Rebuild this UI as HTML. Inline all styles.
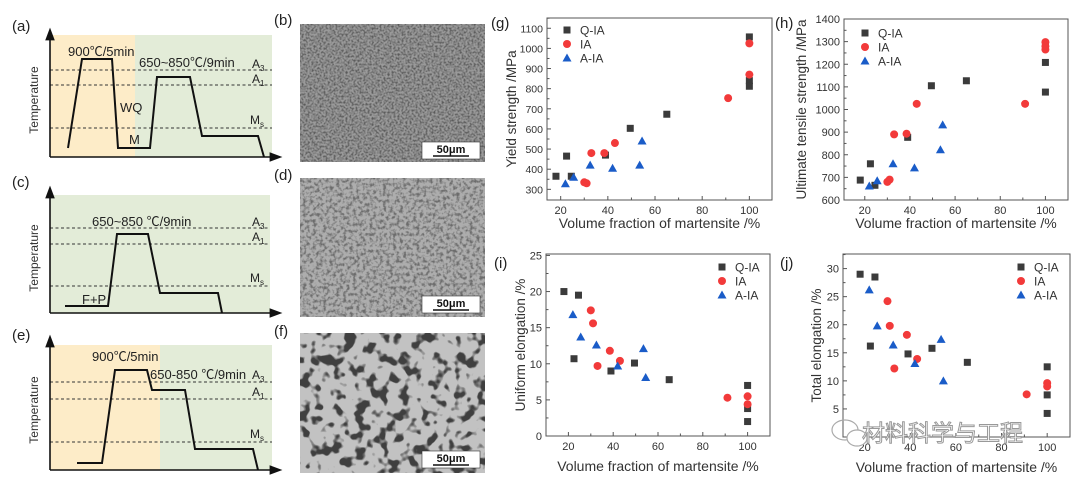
<!DOCTYPE html>
<html><head><meta charset="utf-8">
<style>
html,body{margin:0;padding:0;background:#fff;}
svg{display:block;font-family:"Liberation Sans","Noto Sans CJK SC",sans-serif;}
</style></head>
<body>
<svg id="fig" width="1080" height="484" viewBox="0 0 1080 484" xmlns="http://www.w3.org/2000/svg">
<defs>
  <filter id="nb" x="0" y="0" width="1" height="1">
    <feTurbulence type="fractalNoise" baseFrequency="0.5" numOctaves="2" seed="3"/>
    <feColorMatrix type="matrix" values="0 0 0 0 0.1  0 0 0 0 0.1  0 0 0 0 0.1  0 0 0 -2.6 1.6"/>
  </filter>
  <filter id="nd" x="0" y="0" width="1" height="1">
    <feTurbulence type="fractalNoise" baseFrequency="0.3" numOctaves="2" seed="7"/>
    <feColorMatrix type="matrix" values="0 0 0 0 0.15  0 0 0 0 0.15  0 0 0 0 0.15  0 0 0 -3.2 1.8"/>
  </filter>
  <filter id="nf" x="0" y="0" width="1" height="1">
    <feTurbulence type="fractalNoise" baseFrequency="0.09" numOctaves="2" seed="11"/>
    <feColorMatrix type="matrix" values="0 0 0 0 0.05  0 0 0 0 0.05  0 0 0 0 0.05  0 0 0 -9 4.3"/>
  </filter>
  <marker id="arr" markerWidth="8" markerHeight="8" refX="4" refY="4" orient="auto"><path d="M0,1 L8,4 L0,7 Z" fill="#111"/></marker>
</defs>

<g>
  <text x="12" y="31" font-size="15" fill="#222">(a)</text>
  <rect x="50" y="35" width="85" height="122" fill="#fdecc8"/>
  <rect x="135" y="35" width="137" height="122" fill="#e3ecd8"/>
  <g stroke="#333" stroke-dasharray="3,2.5" stroke-width="1"><line x1="50" y1="70" x2="272" y2="70"/><line x1="50" y1="85" x2="272" y2="85"/><line x1="50" y1="128" x2="272" y2="128"/></g>
  <polyline points="68,148 82,59 112,59 118,148 150,148 157,77 190,77 202,136 258,136 264,157" fill="none" stroke="#111" stroke-width="2"/>
  <line x1="50" y1="157" x2="50" y2="34" stroke="#111" stroke-width="1.6" marker-end="url(#arr)"/>
  <line x1="50" y1="157" x2="276" y2="157" stroke="#111" stroke-width="1.6" marker-end="url(#arr)"/>
  <text x="38" y="100" font-size="12" fill="#333" transform="rotate(-90 38 100)" text-anchor="middle">Temperature</text>
  <text x="68" y="56" font-size="13" fill="#222">900℃/5min</text>
  <text x="139" y="67" font-size="13" fill="#222">650~850℃/9min</text>
  <text x="252" y="68" font-size="12" fill="#222">A<tspan font-size="8" dy="3">3</tspan></text>
  <text x="252" y="83" font-size="12" fill="#222">A<tspan font-size="8" dy="3">1</tspan></text>
  <text x="250" y="124" font-size="12" fill="#222">M<tspan font-size="8" dy="3">s</tspan></text>
  <text x="120" y="112" font-size="13" fill="#222">WQ</text>
  <text x="129" y="144" font-size="13" fill="#222">M</text>
</g>

<g>
  <text x="12" y="187" font-size="15" fill="#222">(c)</text>
  <rect x="50" y="195" width="220" height="118" fill="#e3ecd8"/>
  <g stroke="#333" stroke-dasharray="3,2.5" stroke-width="1"><line x1="50" y1="228" x2="270" y2="228"/><line x1="50" y1="244" x2="270" y2="244"/><line x1="50" y1="286" x2="270" y2="286"/></g>
  <polyline points="65,306 108,306 117,234 148,234 160,293 218,293 222,313" fill="none" stroke="#111" stroke-width="2"/>
  <line x1="50" y1="313" x2="50" y2="192" stroke="#111" stroke-width="1.6" marker-end="url(#arr)"/>
  <line x1="50" y1="313" x2="276" y2="313" stroke="#111" stroke-width="1.6" marker-end="url(#arr)"/>
  <text x="38" y="258" font-size="12" fill="#333" transform="rotate(-90 38 258)" text-anchor="middle">Temperature</text>
  <text x="92" y="226" font-size="13" fill="#222">650~850 ℃/9min</text>
  <text x="252" y="226" font-size="12" fill="#222">A<tspan font-size="8" dy="3">3</tspan></text>
  <text x="252" y="241" font-size="12" fill="#222">A<tspan font-size="8" dy="3">1</tspan></text>
  <text x="250" y="282" font-size="12" fill="#222">M<tspan font-size="8" dy="3">s</tspan></text>
  <text x="82" y="304" font-size="13" fill="#222">F+P</text>
</g>

<g>
  <text x="12" y="340" font-size="15" fill="#222">(e)</text>
  <rect x="50" y="345" width="110" height="125" fill="#fdecc8"/>
  <rect x="160" y="345" width="112" height="125" fill="#e3ecd8"/>
  <g stroke="#333" stroke-dasharray="3,2.5" stroke-width="1"><line x1="50" y1="382" x2="272" y2="382"/><line x1="50" y1="399" x2="272" y2="399"/><line x1="50" y1="442" x2="272" y2="442"/></g>
  <polyline points="77,463 102,463 115,370 147,370 152,390 185,390 195,449 253,449 258,470" fill="none" stroke="#111" stroke-width="2"/>
  <line x1="50" y1="470" x2="50" y2="341" stroke="#111" stroke-width="1.6" marker-end="url(#arr)"/>
  <line x1="50" y1="470" x2="276" y2="470" stroke="#111" stroke-width="1.6" marker-end="url(#arr)"/>
  <text x="38" y="410" font-size="12" fill="#333" transform="rotate(-90 38 410)" text-anchor="middle">Temperature</text>
  <text x="92" y="361" font-size="13" fill="#222">900℃/5min</text>
  <text x="150" y="379" font-size="13" fill="#222">650-850 ℃/9min</text>
  <text x="252" y="379" font-size="12" fill="#222">A<tspan font-size="8" dy="3">3</tspan></text>
  <text x="252" y="396" font-size="12" fill="#222">A<tspan font-size="8" dy="3">1</tspan></text>
  <text x="250" y="438" font-size="12" fill="#222">M<tspan font-size="8" dy="3">s</tspan></text>
</g>

<g>
  <text x="274" y="25" font-size="15" fill="#222">(b)</text>
  <rect x="300" y="24" width="185" height="138" fill="#9a9a9a"/>
  <rect x="300" y="24" width="185" height="138" filter="url(#nb)"/>
  <rect x="422" y="142" width="58" height="17" fill="#fff" stroke="#333" stroke-width="0.6"/>
  <text x="451" y="153" font-size="11" font-weight="bold" text-anchor="middle" fill="#111">50μm</text>
  <line x1="433" y1="156" x2="469" y2="156" stroke="#111" stroke-width="1.5"/>
</g>
<g>
  <text x="274" y="180" font-size="15" fill="#222">(d)</text>
  <rect x="300" y="178" width="185" height="139" fill="#adadad"/>
  <rect x="300" y="178" width="185" height="139" filter="url(#nd)"/>
  <rect x="422" y="296" width="58" height="17" fill="#fff" stroke="#333" stroke-width="0.6"/>
  <text x="451" y="307" font-size="11" font-weight="bold" text-anchor="middle" fill="#111">50μm</text>
  <line x1="433" y1="310" x2="469" y2="310" stroke="#111" stroke-width="1.5"/>
</g>
<g>
  <text x="274" y="336" font-size="15" fill="#222">(f)</text>
  <rect x="300" y="333" width="185" height="140" fill="#c2c2c2"/>
  <rect x="300" y="333" width="185" height="140" filter="url(#nf)"/>
  <rect x="422" y="451" width="58" height="17" fill="#fff" stroke="#333" stroke-width="0.6"/>
  <text x="451" y="462" font-size="11" font-weight="bold" text-anchor="middle" fill="#111">50μm</text>
  <line x1="433" y1="465" x2="469" y2="465" stroke="#111" stroke-width="1.5"/>
</g>

<g id="charts"></g>

<g>
  <ellipse cx="845" cy="430" rx="13" ry="10" fill="none" stroke="#aaa" stroke-width="1.2"/>
  <ellipse cx="857" cy="438" rx="10" ry="8" fill="#fff" stroke="#aaa" stroke-width="1.2"/>
  <text x="862" y="441" font-size="23" fill="#fff" stroke="#999" stroke-width="1" font-family="'Noto Sans CJK SC',sans-serif">材料科学与工程</text>
</g>
</svg>

<script>
const seriesNames = ["Q-IA","IA","A-IA"];
const gQx = [18,22.5,24.5,39,49.5,65,100,100,100];
const gQy = [365,465,365,470,603,673,1057,840,812];
const gIx = [30,31,33,38.5,43,91,100,100];
const gIy = [335,330,480,480,530,753,1025,870];
const gAx = [22,25.5,32.5,42,53.5,54.5];
const gAy = [328,360,420,405,420,540];

const hQx = [18,22.5,24.5,39,49.5,65,100,100,100];
const hQy = [688,760,665,877,1105,1127,1280,1208,1077];
const hIx = [30,31,33,38.5,43,91,100,100,100];
const hIy = [680,690,890,893,1025,1025,1298,1265,1280];
const hAx = [22,25.5,32.5,42,53.5,54.5];
const hAy = [662,685,760,742,822,932];

const iQx = [18,24.5,22.5,39,49.5,65,100,100,100];
const iQy = [20,19.5,10.7,9,10.1,7.8,7,3.8,2];
const iIx = [30,31,33,38.5,43,91,100,100];
const iIy = [17.4,15.6,9.7,11.8,10.4,5.3,5.5,4.4];
const iAx = [22,25.5,32.5,42,53.5,54.5];
const iAy = [16.8,13.7,12.6,9.7,12.1,8.1];

const jQx = [18,24.5,22.5,39,49.5,65,100,100,100];
const jQy = [29,28.5,16.2,14.8,15.8,13.3,12.5,7.5,4.2];
const jIx = [30,31,33,38.5,43,91,100,100];
const jIy = [24.2,19.8,12.2,18.2,13.9,7.6,9.6,9.0];
const jAx = [22,25.5,32.5,42,53.5,54.5];
const jAy = [26.2,19.8,16.4,13.1,17.4,10];

const xTicks = [20,40,60,80,100];
const gYTicks = [300,400,500,600,700,800,900,1000,1100];
const hYTicks = [600,700,800,900,1000,1100,1200,1300,1400];
const iYTicks = [0,5,10,15,20,25];
const jYTicks = [5,10,15,20,25,30];

const NS = "http://www.w3.org/2000/svg";
const root = document.getElementById('charts');
const colors = ["#3b3b3b","#f23a3a","#1a5cc8"];

function mk(tag, attrs, parent){
  const e = document.createElementNS(NS, tag);
  for (const k in attrs) e.setAttribute(k, attrs[k]);
  parent.appendChild(e);
  return e;
}
function marker(kind, x, y, parent){
  let e;
  if (kind===0) e = mk('rect',{x:x-3.5,y:y-3.5,width:7,height:7,fill:colors[0]},parent);
  else if (kind===1) e = mk('circle',{cx:x,cy:y,r:4,fill:colors[1]},parent);
  else e = mk('path',{d:`M${x},${y-4.5} L${x+4.5},${y+3.5} L${x-4.5},${y+3.5} Z`,fill:colors[2]},parent);
  return e;
}

function chart(cfg){
  const g = mk('g',{},root);
  
  
  const {L,R,T,B,x0,x1,y0,y1} = cfg;
  const sx = v => L + (v-x0)/(x1-x0)*(R-L);
  const sy = v => B - (v-y0)/(y1-y0)*(B-T);
  const pl = mk('text',{x:cfg.lx,y:cfg.ly,'font-size':15,fill:'#222'},g);
  pl.textContent = cfg.label;
  
  
  const fr = mk('rect',{x:L,y:T,width:R-L,height:B-T,fill:'none',stroke:'#555','stroke-width':1},g);
  
  
  for (let v=10; v<=x1; v+=10){
    if (v<x0) continue;
    const major = v%20===0;
    mk('line',{x1:sx(v),x2:sx(v),y1:B,y2:B-(major?4:2.5),stroke:'#555'},g);
  }
  xTicks.forEach(v=>{
    const t = mk('text',{x:sx(v),y:B+14,'font-size':11,'text-anchor':'middle',fill:'#333'},g);
    t.textContent = v;
    
    
  });
  const yt = cfg.yTicks, step = yt[1]-yt[0];
  yt.forEach(v=>{
    mk('line',{x1:L,x2:L+4,y1:sy(v),y2:sy(v),stroke:'#555'},g);
    const h = v+step/2;
    if (h<y1) mk('line',{x1:L,x2:L+2.5,y1:sy(h),y2:sy(h),stroke:'#555'},g);
    const t = mk('text',{x:L-4,y:sy(v)+4,'font-size':cfg.tf||11,'text-anchor':'end',fill:'#333'},g);
    t.textContent = v;
    
    
  });
  const xt = mk('text',{x:(L+R)/2,y:cfg.xty,'font-size':14,'text-anchor':'middle',fill:'#333'},g);
  xt.textContent = 'Volume fraction of martensite /%';
  
  
  const ytt = mk('text',{x:cfg.ytx,y:(T+B)/2,'font-size':13.5,'text-anchor':'middle',fill:'#333',transform:`rotate(-90 ${cfg.ytx} ${(T+B)/2})`},g);
  ytt.textContent = cfg.ytitle;
  
  
  cfg.series.forEach((s,k)=>{
    const sg = mk('g',{},g);
    
    
    s[0].forEach((xv,i)=>{
      const m = marker(k, sx(xv), sy(s[1][i]), sg);
      
      
    });
  });
  const lg = mk('g',{},g);
  
  
  seriesNames.forEach((n,k)=>{
    const y = cfg.legY + k*14;
    const m = marker(k, cfg.legX, y, lg);
    
    
    const t = mk('text',{x:cfg.legX+13,y:y+4.5,'font-size':12,fill:'#333'},lg);
    t.textContent = n;
    
    
  });
}

chart({name:'chart-yield-strength',label:'(g)',lx:491,ly:28,L:547,R:772,T:18,B:200,x0:14.2,x1:109.6,y0:247,y1:1151,
  yTicks:gYTicks,tf:10.5,ytitle:'Yield strength /MPa',ytx:516,xty:228,legX:567,legY:30,
  series:[[gQx,gQy],[gIx,gIy],[gAx,gAy]]});
chart({name:'chart-tensile-strength',label:'(h)',lx:775,ly:28,L:844,R:1068,T:19,B:200,x0:10.8,x1:110,y0:600,y1:1400,
  yTicks:hYTicks,ytitle:'Ultimate tensile strength /MPa',ytx:806,xty:228,legX:865,legY:33,
  series:[[hQx,hQy],[hIx,hIy],[hAx,hAy]]});
chart({name:'chart-uniform-elongation',label:'(i)',lx:494,ly:268,L:546,R:770,T:254,B:436,x0:10,x1:110,y0:0,y1:25.2,
  yTicks:iYTicks,ytitle:'Uniform elongation /%',ytx:525,xty:471,legX:722,legY:267,
  series:[[iQx,iQy],[iIx,iIy],[iAx,iAy]]});
chart({name:'chart-total-elongation',label:'(j)',lx:780,ly:268,L:843,R:1070,T:254,B:437,x0:10.5,x1:110,y0:0,y1:32.6,
  yTicks:jYTicks,ytitle:'Total elongation /%',ytx:821,xty:472,legX:1021,legY:267,
  series:[[jQx,jQy],[jIx,jIy],[jAx,jAy]]});
</script>
</body></html>
